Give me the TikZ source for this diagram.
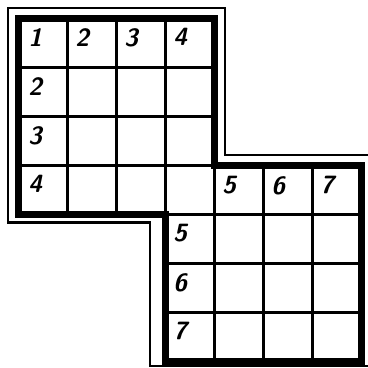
\documentclass[tikz,border=0pt]{standalone}
\usepackage{tikz}

\begin{document}
\begin{tikzpicture}[
  x=1cm,y=-1cm,
  gridline/.style={line width=1.7pt},
  outline/.style={line width=4.2pt,line join=miter},
  frameline/.style={line width=1.2pt,line join=miter},
  num/.style={anchor=north west,inner sep=0pt,
              font=\fontsize{14.5}{14.5}\selectfont\sffamily\bfseries\itshape}
]
  \useasboundingbox (-0.37,-0.37) rectangle (7.14,7.14);
  % thin frame round the board
  \draw[frameline] (-0.2,-0.2) -- (4.23,-0.2) -- (4.23,2.79) -- (7.3,2.79)
    -- (7.3,7.1) -- (2.7,7.1) -- (2.7,4.17) -- (-0.2,4.17) -- cycle;
  % cells
  \foreach \i in {1,2,3} {
    \draw[gridline] (\i,0) -- (\i,4);
    \draw[gridline] (0,\i) -- (4,\i);
  }
  \foreach \i in {4,5,6} {
    \draw[gridline] (\i,3) -- (\i,7);
    \draw[gridline] (3,\i) -- (7,\i);
  }
  \draw[outline] (0,0) -- (4,0) -- (4,3) -- (7,3) -- (7,7) -- (3,7) -- (3,4) -- (0,4) -- cycle;
  % numbers
  \node[num] (one) at (0.2,0.2) {1};
  \foreach \n in {2,3,4} {
    \node[num] (top\n) at (\n-0.84,0.2) {\n};
    \node[num] (left\n) at (0.2,\n-0.8) {\n};
  }
  \foreach \n in {5,6,7} {
    \node[num] (mid\n) at (\n-0.84,3.22) {\n};
    \node[num] (low\n) at (3.16,\n-0.8) {\n};
  }
\end{tikzpicture}
\end{document}
